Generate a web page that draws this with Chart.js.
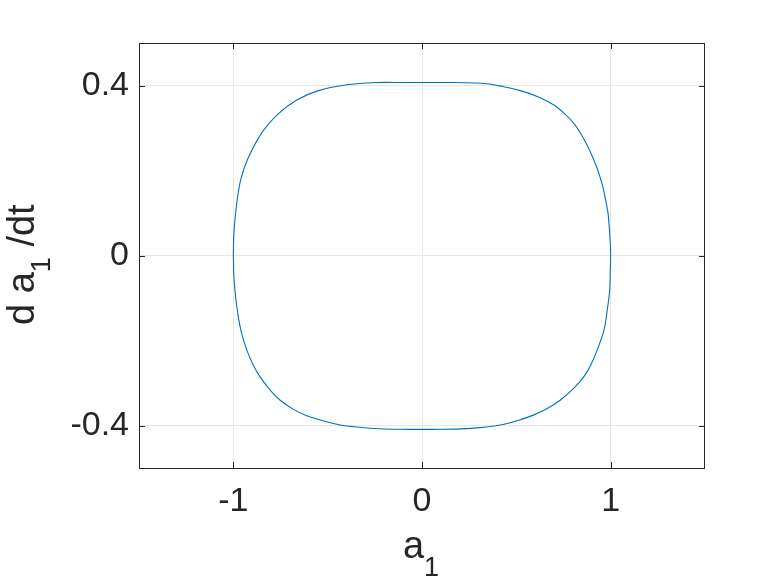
<!DOCTYPE html>
<html>
<head>
<meta charset="utf-8">
<script src="https://cdn.jsdelivr.net/npm/chart.js@4/dist/chart.umd.min.js"></script>
<style>
  html, body { margin: 0; padding: 0; background: #fff; }
  #wrap { width: 778px; height: 584px; }
</style>
</head>
<body>
<div id="wrap"><canvas id="phaseChart"></canvas></div>
<script>
// Phase portrait a1 vs da1/dt (clockwise from (-1, 0))
const a1Values = [
  -1.000, -0.997, -0.982, -0.961, -0.925, -0.850, -0.762, -0.664, -0.549, -0.407, -0.239, -0.100, 0.000,
  0.168, 0.345, 0.433, 0.522, 0.611, 0.699, 0.752, 0.805, 0.841, 0.876, 0.903, 0.929, 0.956, 0.973, 0.986, 0.993, 0.998, 1.000,
  0.998, 0.995, 0.982, 0.965, 0.929, 0.894, 0.858, 0.805, 0.734, 0.664, 0.593, 0.504, 0.416, 0.310, 0.203, 0.097, 0.000,
  -0.115, -0.257, -0.363, -0.434, -0.523, -0.611, -0.682, -0.753, -0.806, -0.859, -0.894, -0.929, -0.956, -0.974, -0.988, -0.997, -1.000
];
const da1dtValues = [
  0.000, 0.052, 0.123, 0.178, 0.226, 0.288, 0.333, 0.366, 0.388, 0.401, 0.407, 0.407, 0.407,
  0.407, 0.404, 0.397, 0.388, 0.374, 0.354, 0.335, 0.311, 0.287, 0.259, 0.233, 0.204, 0.166, 0.131, 0.099, 0.064, 0.029, 0.000,
  -0.034, -0.081, -0.128, -0.175, -0.222, -0.258, -0.285, -0.312, -0.340, -0.360, -0.375, -0.389, -0.399, -0.405, -0.408, -0.409, -0.409,
  -0.409, -0.407, -0.403, -0.399, -0.389, -0.377, -0.362, -0.340, -0.316, -0.285, -0.258, -0.222, -0.183, -0.144, -0.097, -0.050, 0.000
];
const xTicks = [-1, 0, 1];
const yTicks = [-0.4, 0, 0.4];

const axisColor = '#262626';
const gridColor = '#e6e6e6';
const lineColor = '#0072BD';
const fontFamily = '"Liberation Sans", Arial, Helvetica, sans-serif';

const points = a1Values.map((x, i) => ({ x: x, y: da1dtValues[i] }));

// box, inward ticks and the axis labels with subscripts
const matlabAxes = {
  id: 'matlabAxes',
  afterDraw(chart) {
    const ctx = chart.ctx;
    const area = chart.chartArea;
    const xs = chart.scales.x;
    const ys = chart.scales.y;
    const tickLen = 6;

    ctx.save();
    ctx.strokeStyle = axisColor;
    ctx.lineWidth = 1;
    ctx.strokeRect(Math.round(area.left) + 0.5, Math.round(area.top) + 0.5,
      Math.round(area.right - area.left) - 1, Math.round(area.bottom - area.top));

    ctx.beginPath();
    xTicks.forEach(v => {
      const px = Math.round(xs.getPixelForValue(v)) + 0.5;
      ctx.moveTo(px, area.bottom);
      ctx.lineTo(px, area.bottom - tickLen);
      ctx.moveTo(px, area.top);
      ctx.lineTo(px, area.top + tickLen);
    });
    yTicks.forEach(v => {
      const py = Math.round(ys.getPixelForValue(v)) + 0.5;
      ctx.moveTo(area.left, py);
      ctx.lineTo(area.left + tickLen, py);
      ctx.moveTo(area.right, py);
      ctx.lineTo(area.right - tickLen, py);
    });
    ctx.stroke();

    // x label: a_1
    const mainFont = '38px ' + fontFamily;
    const subFont = '27px ' + fontFamily;
    ctx.fillStyle = axisColor;
    ctx.textBaseline = 'alphabetic';
    ctx.textAlign = 'left';
    ctx.font = mainFont;
    const aW = ctx.measureText('a').width;
    ctx.font = subFont;
    const oneW = ctx.measureText('1').width;
    const cx = (area.left + area.right) / 2;
    const x0 = cx - (aW + oneW) / 2 - 1;
    ctx.font = mainFont;
    ctx.fillText('a', x0, 558);
    ctx.font = subFont;
    ctx.fillText('1', x0 + aW, 576);

    // y label: d a_1 /dt, rotated
    ctx.save();
    ctx.translate(34, 325);
    ctx.rotate(-Math.PI / 2);
    let pos = 0;
    ctx.font = mainFont;
    ctx.fillText('d a', pos, 0);
    pos += ctx.measureText('d a').width;
    ctx.font = subFont;
    ctx.fillText('1', pos, 16);
    pos += ctx.measureText('1').width;
    ctx.font = mainFont;
    ctx.fillText(' /dt', pos, 0);
    ctx.restore();

    ctx.restore();
  }
};

new Chart(document.getElementById('phaseChart'), {
  type: 'scatter',
  data: {
    datasets: [{
      data: points,
      showLine: true,
      borderColor: lineColor,
      borderWidth: 1.1,
      pointRadius: 0,
      tension: 0.3,
      fill: false
    }]
  },
  options: {
    responsive: true,
    maintainAspectRatio: false,
    animation: false,
    layout: { padding: { top: 43, right: 73, left: 0, bottom: 0 } },
    plugins: {
      legend: { display: false },
      tooltip: { enabled: false }
    },
    scales: {
      x: {
        type: 'linear',
        min: -1.5,
        max: 1.5,
        afterBuildTicks: s => { s.ticks = xTicks.map(v => ({ value: v })); },
        afterFit: s => { s.height = 116; },
        grid: { color: gridColor, drawTicks: false },
        border: { display: false },
        ticks: {
          color: axisColor,
          padding: 13,
          maxRotation: 0,
          font: { family: fontFamily, size: 34 },
          callback: v => String(v)
        }
      },
      y: {
        type: 'linear',
        min: -0.5,
        max: 0.5,
        afterBuildTicks: s => { s.ticks = yTicks.map(v => ({ value: v })); },
        afterFit: s => { s.width = 139; },
        grid: { color: gridColor, drawTicks: false },
        border: { display: false },
        ticks: {
          color: axisColor,
          padding: 10,
          font: { family: fontFamily, size: 34 },
          callback: v => String(v)
        }
      }
    }
  },
  plugins: [matlabAxes]
});
</script>
</body>
</html>
